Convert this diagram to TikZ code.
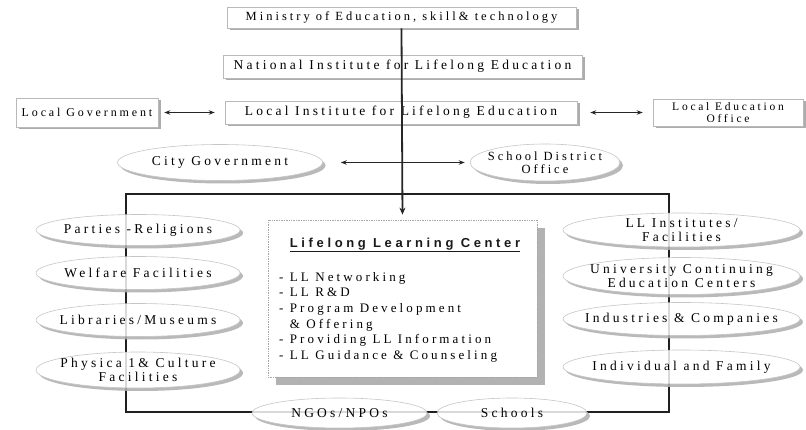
\documentclass[tikz,border=0pt]{standalone}
\usepackage{fontspec}
\setmainfont{Liberation Serif}
\newfontfamily\wsf[LetterSpace=24]{Liberation Serif}
\newfontfamily\wsb[LetterSpace=28]{Liberation Sans}
\usetikzlibrary{arrows.meta,shadows,shapes.geometric}
\begin{document}
\begin{tikzpicture}[x=1pt,y=-1pt,
  txt/.style={font=\wsf\fontsize{13.5}{13.5}\selectfont, align=center, inner sep=0pt, text=black},
  rbox/.style={txt, draw=gray!55, fill=white, line width=0.6pt,
    drop shadow={shadow xshift=2.5pt,shadow yshift=-2.5pt,fill=gray!65,opacity=1}},
  oval/.style={txt, ellipse, inner xsep=-20pt, inner ysep=-9pt, draw=gray!45, line width=0.6pt, fill=white,
    drop shadow={shadow xshift=3pt,shadow yshift=-3pt,fill=gray!55,opacity=1}},
  conn/.style={line width=1.8pt, draw=black!85},
  tip/.style={{Stealth[length=6pt,width=4.5pt]}-{Stealth[length=6pt,width=4.5pt]}, line width=0.8pt, draw=black!85}
]
\useasboundingbox (0,0) rectangle (806,430);

% frame
\draw[conn] (126,194) rectangle (669,412);

% top boxes
\node[rbox, minimum width=349pt, minimum height=21pt, font=\wsf\fontsize{12.5}{13}\selectfont] (min) at (401.5,17.5) {Ministry of Education, skill\& technology};
\node[rbox, minimum width=359pt, minimum height=23pt, font=\wsf\fontsize{13.5}{14}\selectfont] (ni) at (402.5,66.5) {National Institute for Lifelong Education};
\node[rbox, minimum width=352pt, minimum height=23pt, font=\wsf\fontsize{13.5}{14}\selectfont] (li) at (401,112.5) {Local Institute for Lifelong Education};
\node[rbox, minimum width=142pt, minimum height=29pt, font=\wsf\fontsize{12}{12}\selectfont] (lg) at (87,112.5) {Local Government};
\node[rbox, minimum width=150pt, minimum height=27pt, font=\wsf\fontsize{11.5}{11.5}\selectfont] (leo) at (728,112.5) {Local Education\\Office};

% second row ovals
\node[oval, minimum width=205pt, minimum height=36pt] (city) at (220,162.5) {City Government};
\node[oval, minimum width=150pt, minimum height=37pt, font=\wsf\fontsize{12.5}{13}\selectfont] (sdo) at (545,162.5) {School District\\Office};

% center box
\node[draw=gray!70, densely dotted, fill=white, line width=0.7pt, minimum width=269pt, minimum height=157pt, inner sep=0pt,
  drop shadow={shadow xshift=8pt,shadow yshift=-8pt,fill=gray!60,opacity=1}] (lc) at (402.5,298.5) {};
\node[inner sep=0pt, font=\wsb\bfseries\fontsize{13}{13}\selectfont, text=black!90] (title) at (405,245) {\underline{Lifelong Learning Center}};
\node[anchor=north west, inner sep=0pt, align=left, text=black, font=\wsf\fontsize{13}{15.6}\selectfont] (items) at (279,272)
  {- LL Networking\\- LL R\&D\\- Program Development\\\phantom{- }\& Offering\\- Providing LL Information\\- LL Guidance \& Counseling};

% left ovals
\node[oval, minimum width=204pt, minimum height=31pt] (pr) at (138,230) {Parties -Religions};
\node[oval, minimum width=204pt, minimum height=33pt] (wf) at (138,273) {Welfare Facilities};
\node[oval, minimum width=204pt, minimum height=33pt] (lm) at (138,320) {Libraries/Museums};
\node[oval, minimum width=204pt, minimum height=36pt] (pc) at (138,370) {Physica 1\& Culture\\Facilities};

% right ovals
\node[oval, minimum width=237pt, minimum height=34pt] (lli) at (681.5,230) {LL Institutes/\\Facilities};
\node[oval, minimum width=237pt, minimum height=37pt] (uce) at (681.5,276) {University Continuing\\Education Centers};
\node[oval, minimum width=237pt, minimum height=33pt] (ic) at (681.5,319) {Industries \& Companies};
\node[oval, minimum width=237pt, minimum height=34pt] (ifm) at (681.5,367) {Individual and Family};

% bottom ovals
\node[oval, minimum width=175pt, minimum height=30pt] (ngo) at (339.5,413) {NGOs/NPOs};
\node[oval, minimum width=150pt, minimum height=30pt] (sch) at (512,413) {Schools};

% faint frame through ovals
\draw[line width=1.8pt, draw=black, opacity=0.15] (126,194) rectangle (669,412);

% main vertical connector
\draw[conn, -{Stealth[length=7pt,width=6pt]}, shorten >=5pt] (min.south) -- (lc.north);

% side arrows
\draw[tip] ([xshift=6pt]lg.east) -- ([xshift=-10pt]li.west);
\draw[tip] ([xshift=13pt]li.east) -- ([xshift=-10pt]leo.west);
\draw[tip] ([xshift=18pt]city.east) -- ([xshift=-5pt]sdo.west);
\end{tikzpicture}
\end{document}
